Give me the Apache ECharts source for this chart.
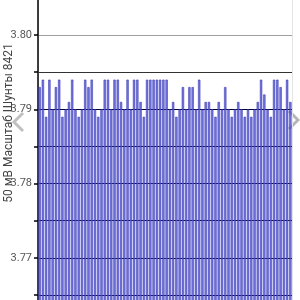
<!DOCTYPE html>
<html>
<head>
<meta charset="utf-8">
<style>
html,body{margin:0;padding:0;background:#fff;}
#c{width:300px;height:300px;}
</style>
<script src="https://cdn.jsdelivr.net/npm/echarts@6/dist/echarts.min.js"></script>
</head>
<body>
<div id="c"></div>
<script>
// ---- data ----
var yAxisName = '50 мВ Масштаб Шунты 8421';
var yTickLabels = ['3.77', '3.78', '3.79', '3.80'];
var values = [
  3.793, 3.794, 3.789, 3.794, 3.790, 3.793, 3.794, 3.789, 3.790, 3.791,
  3.794, 3.790, 3.789, 3.790, 3.794, 3.793, 3.794, 3.790, 3.789, 3.790,
  3.794, 3.794, 3.790, 3.794, 3.794, 3.791, 3.790, 3.794, 3.790, 3.794,
  3.794, 3.791, 3.789, 3.794, 3.794, 3.794, 3.794, 3.794, 3.794, 3.794,
  3.790, 3.791, 3.789, 3.790, 3.793, 3.790, 3.793, 3.793, 3.790, 3.794,
  3.790, 3.791, 3.791, 3.790, 3.789, 3.791, 3.790, 3.793, 3.790, 3.789,
  3.790, 3.791, 3.790, 3.789, 3.790, 3.789, 3.790, 3.791, 3.794, 3.792,
  3.790, 3.789, 3.794, 3.794, 3.793, 3.790, 3.794, 3.791
];
var categories = values.map(function (v, i) { return String(i + 1); });

var chart = echarts.init(document.getElementById('c'), null, {renderer: 'canvas'});
var option = {
  animation: false,
  backgroundColor: '#ffffff',
  textStyle: {fontFamily: 'Roboto'},
  grid: {left: 38, right: 8, top: -2, bottom: -32, containLabel: false, outerBoundsMode: 'none'},
  xAxis: {
    type: 'category',
    data: categories,
    boundaryGap: true,
    axisLine: {show: false},
    axisTick: {show: false},
    axisLabel: {show: false},
    splitLine: {
      show: true,
      interval: function (idx) { return idx === 69; },
      lineStyle: {color: '#e4e4e4', width: 1}
    }
  },
  yAxis: {
    type: 'value',
    min: 3.76,
    max: 3.805,
    interval: 0.005,
    axisLine: {show: true, lineStyle: {color: '#000', width: 1.5}},
    axisTick: {show: true, length: 4, lineStyle: {color: '#000', width: 1.5}},
    axisLabel: {
      color: '#555',
      fontSize: 11,
      margin: 6,
      formatter: function (v) {
        var s = v.toFixed(2);
        return yTickLabels.indexOf(s) >= 0 && Math.round(v * 1000) % 10 === 0 ? s : '';
      }
    },
    splitLine: {
      show: true,
      lineStyle: {
        color: ['#000', '#000030', '#000030', '#000030', '#000030', '#000030', '#000030', '#333333', '#a0a0a0', '#a0a0a0'],
        width: 1
      }
    }
  },
  series: [{
    type: 'bar',
    data: values,
    barCategoryGap: '28%',
    itemStyle: {
      color: 'rgba(88,88,215,0.82)',
      borderColor: 'rgba(50,50,180,0.9)',
      borderWidth: 0.6
    }
  }],
  graphic: [
    {
      type: 'text', x: 9, y: 123, rotation: Math.PI / 2,
      style: {text: yAxisName, fill: '#444', fontSize: 12, fontFamily: 'Roboto', align: 'center', verticalAlign: 'middle'}
    },
    {
      type: 'polyline', shape: {points: [[23, 113], [14, 122], [23, 131]]},
      style: {stroke: 'rgba(150,150,150,0.6)', lineWidth: 3, fill: null}
    },
    {
      type: 'polyline', shape: {points: [[289, 111], [298, 120], [289, 129]]},
      style: {stroke: 'rgba(150,150,150,0.7)', lineWidth: 3, fill: null}
    }
  ]
};
chart.setOption(option);
</script>
</body>
</html>
